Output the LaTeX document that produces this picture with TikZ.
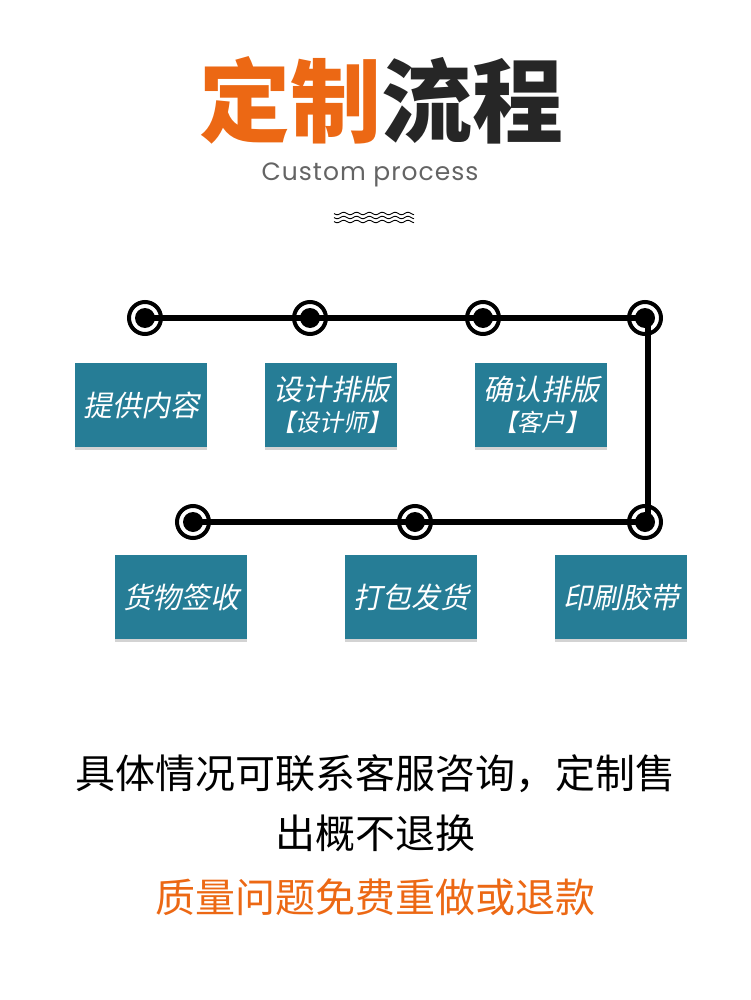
\documentclass[tikz,border=0pt]{standalone}
\usepackage{fontspec}
\usepackage{tikz}
\usetikzlibrary{positioning, shadows}
\setmainfont{Noto Sans CJK SC}
\newfontfamily\cjk{Noto Sans CJK SC}
\newfontfamily\cjkslant[FakeSlant=0.2]{Noto Sans CJK SC}
\newfontfamily\latinfont[LetterSpace=4]{Poppins}
\definecolor{teal}{RGB}{38,125,150}
\definecolor{accent}{RGB}{236,104,20}
\definecolor{greytext}{RGB}{100,100,100}

\begin{document}
\begin{tikzpicture}[
  x=1pt, y=-1pt,
  stepbox/.style={fill=teal, minimum width=132pt, minimum height=84pt, inner sep=0pt,
    align=center, text=white, font=\cjkslant\fontsize{29}{36}\selectfont,
    drop shadow={shadow xshift=0pt, shadow yshift=-3pt, opacity=0.35}},
  ring/.style={draw, line width=4pt, circle, minimum size=32pt, inner sep=0pt, fill=white},
  dot/.style={fill, circle, minimum size=20pt, inner sep=0pt},
  link/.style={line width=6pt},
]
  \useasboundingbox (0,0) rectangle (750,1000);
  % title
  \node (title) at (381,100) {\cjk\bfseries\fontsize{91}{100}\selectfont\textcolor{accent}{定制}\textcolor{black!85}{流程}};
  \node[text=greytext, font=\latinfont\fontsize{25}{30}\selectfont] (sub) at (370,175) {Custom process};
  \foreach \yy in {213.5,217.5,221.5}
    \draw[line width=0.9pt] plot[domain=334:414, samples=80] (\x, {\yy+1.2*sin((\x-334)*28)});
  % track
  \node[ring] (r1) at (145,318) {};
  \node[ring] (r2) at (310,318) {};
  \node[ring] (r3) at (483,318) {};
  \node[ring] (r4) at (645,318) {};
  \node[ring] (r5) at (645,522) {};
  \node[ring] (r6) at (415,522) {};
  \node[ring] (r7) at (193,522) {};
  \coordinate (c1) at (648,318);
  \coordinate (c2) at (648,522);
  \draw[link] (r1.center) -- (c1) -- (c2) -- (r7.center);
  \foreach \r in {r1,r2,r3,r4,r5,r6,r7} \node[dot] at (\r.center) {};
  % steps
  \node[stepbox] (s1) at (141,405) {提供内容};
  \node[stepbox] (s2) at (331,405) {设计排版\\[-5pt]{\fontsize{24}{28}\selectfont【设计师】}};
  \node[stepbox] (s3) at (541,405) {确认排版\\[-5pt]{\fontsize{24}{28}\selectfont【客户】}};
  \node[stepbox] (s4) at (621,597) {印刷胶带};
  \node[stepbox] (s5) at (411,597) {打包发货};
  \node[stepbox] (s6) at (181,597) {货物签收};
  % notes
  \node[font=\cjk\fontsize{40}{60}\selectfont, align=center] (note) at (375,803) {具体情况可联系客服咨询，定制售\\出概不退换};
  \node[font=\cjk\fontsize{40}{44}\selectfont, text=accent] (refund) at (375,897) {质量问题免费重做或退款};
\end{tikzpicture}
\end{document}
